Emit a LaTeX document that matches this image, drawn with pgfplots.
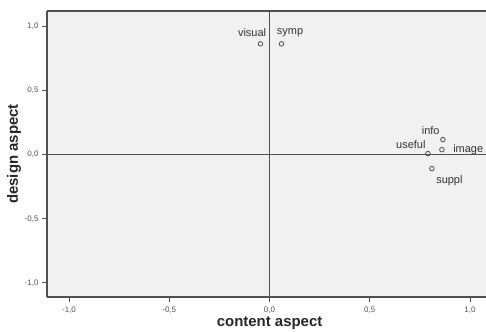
\documentclass[border=0pt]{standalone}
\usepackage{pgfplots}
\pgfplotsset{compat=1.18}
\usetikzlibrary{calc}
\usepackage{fontspec}
\setmainfont{Liberation Sans}
\definecolor{framec}{HTML}{505050}
\definecolor{txtc}{HTML}{333333}
\definecolor{bgc}{HTML}{F1F1F1}
\pgfplotsset{
  pt/.style n args={3}{only marks, mark=o, mark size=2.3bp,
    mark options={framec, line width=0.8pt},
    point meta=explicit symbolic, nodes near coords,
    every node near coord/.style={anchor=#1, xshift=#2, yshift=#3, inner sep=0pt,
      font=\fontsize{11}{12}\selectfont, text=txtc}},
}
\begin{document}
\begin{tikzpicture}
\begin{axis}[
  name=ax,
  scale only axis,
  width=439bp, height=286bp,
  xmin=-1.11, xmax=1.08,
  ymin=-1.11, ymax=1.12,
  axis x line*=bottom, axis y line*=left,
  axis line style={framec, line width=1.1pt, -},
  axis background/.style={fill=bgc},
  xtick={-1,-0.5,0,0.5,1},
  ytick={-1,-0.5,0,0.5,1},
  tick align=outside,
  major tick length=5bp,
  tick style={framec, line width=0.8pt},
  /pgf/number format/assume math mode=true,
  /pgf/number format/use comma,
  /pgf/number format/fixed,
  /pgf/number format/fixed zerofill,
  /pgf/number format/precision=1,
  ticklabel style={font=\fontsize{8}{9}\selectfont, text=txtc!85},
  xticklabel style={yshift=-1bp},
  xlabel={content aspect},
  ylabel={design aspect},
  every axis x label/.style={font=\fontsize{15}{16}\selectfont\bfseries, text=black!85, at={(rel axis cs:0.507,-0.091)}, anchor=center},
  every axis y label/.style={font=\fontsize{15}{16}\selectfont\bfseries, text=black!85, at={(rel axis cs:-0.0752,0.5)}, anchor=center, rotate=90},
  clip=false,
]
\draw[framec, line width=1.1pt] (rel axis cs:0,1) -- (rel axis cs:1,1);
\draw[framec, line width=1pt] (axis cs:0,-1.11) -- (axis cs:0,1.12);
\draw[framec, line width=1pt] (axis cs:-1.11,0) -- (axis cs:1.08,0);
\addplot[pt={south east}{6bp}{7bp}]  coordinates {(-0.045,0.864) [visual]};
\addplot[pt={south west}{-5bp}{7bp}] coordinates {(0.060,0.864) [symp]};
\addplot[pt={south east}{-3bp}{5bp}] coordinates {(0.865,0.117) [info]};
\addplot[pt={west}{11bp}{0bp}]       coordinates {(0.860,0.039) [image]};
\addplot[pt={south east}{-2bp}{5bp}] coordinates {(0.790,0.008) [useful]};
\addplot[pt={north west}{4bp}{-7bp}] coordinates {(0.810,-0.109) [suppl]};
\end{axis}
\pgfresetboundingbox
\useasboundingbox ($(ax.south west)+(-47bp,-35bp)$) rectangle ($(ax.north east)+(0bp,11bp)$);
\end{tikzpicture}
\end{document}
